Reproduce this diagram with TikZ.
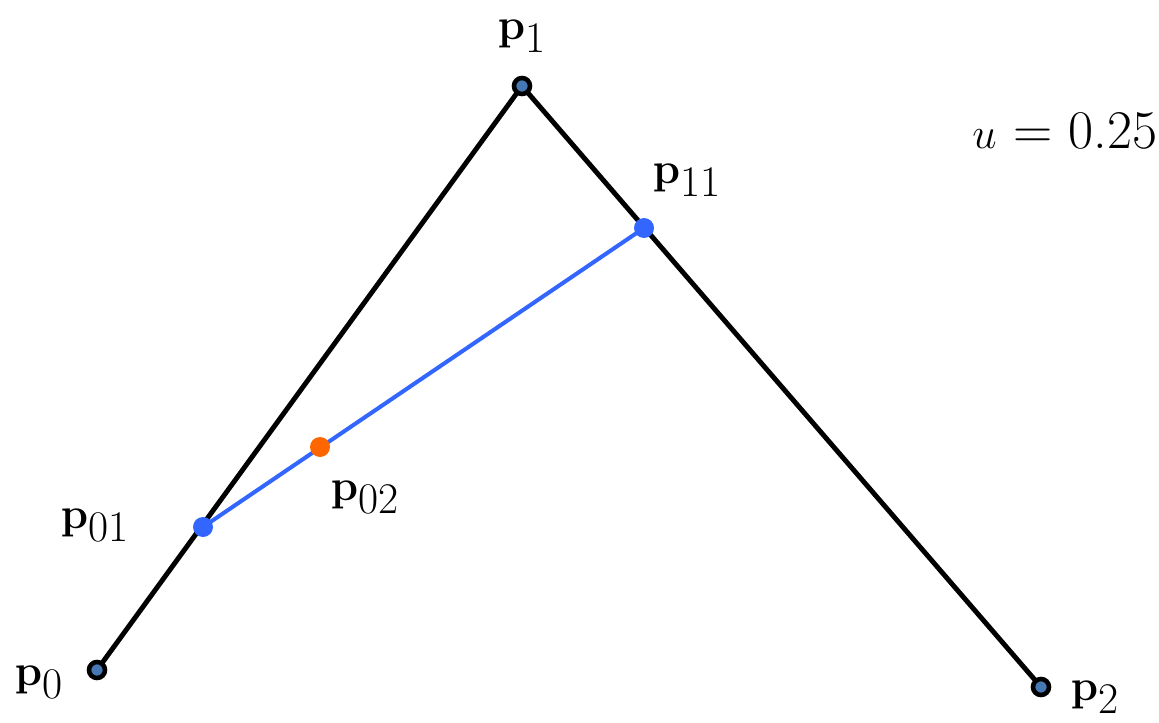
\documentclass[tikz,border=0pt]{standalone}
\usepackage{amsmath, amssymb}
\usepackage{xcolor}
\usepackage{tikz}
\usetikzlibrary{positioning, calc}
\definecolor{ink}{RGB}{0,0,0}
\definecolor{ctrlfill}{RGB}{70,120,180}
\definecolor{lerpblue}{RGB}{51,102,255}
\definecolor{curveorange}{RGB}{255,102,0}
\newcommand{\Pt}[1]{\mathbf{p}_{#1}}

\begin{document}
\begin{tikzpicture}[
  x=0.02cm, y=-0.02cm,
  lbl/.style={font=\fontsize{35}{40}\selectfont, inner sep=0pt},
  ctrl/.style={circle, draw=ink, line width=2.6pt, fill=ctrlfill, minimum size=3.2mm, inner sep=0pt},
  mid/.style={circle, fill=lerpblue, minimum size=4mm, inner sep=0pt},
  hit/.style={circle, fill=curveorange, minimum size=4mm, inner sep=0pt},
  poly/.style={draw=ink, line width=2.8pt},
  lerp/.style={draw=lerpblue, line width=2.3pt}
]
\useasboundingbox (0,0) rectangle (1159,723);

\coordinate (p0) at (97,670);
\coordinate (p1) at (522,86);
\coordinate (p2) at (1041,687);
\coordinate (p01) at (203,527);
\coordinate (p11) at (644,228);
\coordinate (p02) at (320,447);

\draw[poly] (p0) -- (p1) -- (p2);
\draw[lerp] (p01) -- (p11);

\node[ctrl] (d0) at (p0) {};
\node[ctrl] (d1) at (p1) {};
\node[ctrl] (d2) at (p2) {};
\node[mid] (d01) at (p01) {};
\node[mid] (d11) at (p11) {};
\node[hit] (d02) at (p02) {};

\node[lbl] (l1) at (522,36) {$\Pt{1}$};
\node[lbl] (l0) at (39,682) {$\Pt{0}$};
\node[lbl] (l2) at (1095,697) {$\Pt{2}$};
\node[lbl] (l11) at (687,180) {$\Pt{11}$};
\node[lbl] (l01) at (95,525) {$\Pt{01}$};
\node[lbl] (l02) at (365,497) {$\Pt{02}$};

\node[font=\fontsize{31}{36}\selectfont, inner sep=0pt] (uval) at (1065,131) {$u$ = 0.25};

\end{tikzpicture}
\end{document}
